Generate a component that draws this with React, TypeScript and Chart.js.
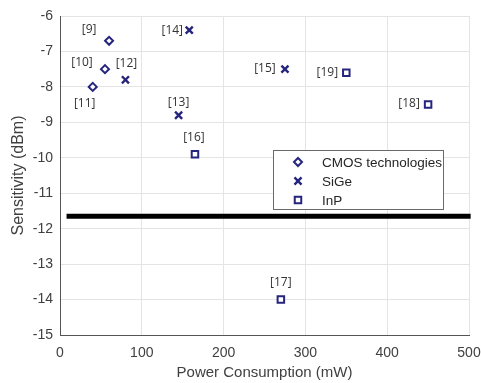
import { useEffect, useRef } from 'react';
import { Chart, registerables } from 'chart.js';
import { drawPoint } from 'chart.js/helpers';

Chart.register(...registerables);

// ---- data ----
const seriesNames = ['CMOS technologies', 'SiGe', 'InP'];
const cmosX = [60, 55, 40];
const cmosY = [-6.7, -7.5, -8.0];
const cmosRefs = ['[9]', '[10]', '[11]'];
const sigeX = [80, 158, 145, 275];
const sigeY = [-7.8, -6.4, -8.8, -7.5];
const sigeRefs = ['[12]', '[14]', '[13]', '[15]'];
const inpX = [165, 350, 450, 270];
const inpY = [-9.9, -7.6, -8.5, -14.0];
const inpRefs = ['[16]', '[19]', '[18]', '[17]'];
const thresholdX = [8, 502];
const thresholdY = [-11.65, -11.65];
const xTicks = [0, 100, 200, 300, 400, 500];
const yTicks = [-6, -7, -8, -9, -10, -11, -12, -13, -14, -15];
const xTitle = 'Power Consumption (mW)';
const yTitle = 'Sensitivity (dBm)';

// ---- styles (label offsets in px) ----
const labelOffsets: Record<string, [number, number]> = {
  '[9]': [-20, -11],
  '[10]': [-23, -7],
  '[11]': [-8, 17],
  '[12]': [1, -16],
  '[14]': [-17, 0],
  '[13]': [0, -13],
  '[16]': [-1, -17],
  '[15]': [-20, -1],
  '[19]': [-19, 0],
  '[18]': [-19, -1],
  '[17]': [0, -17],
};

const markerColor = '#25257e';

function pts(xs: number[], ys: number[]) {
  return xs.map((x, i) => ({ x, y: ys[i] }));
}

export default function App() {
  const ref = useRef<HTMLCanvasElement | null>(null);

  useEffect(() => {
    const canvas = ref.current;
    if (!canvas) return;
    const refsByDataset = [cmosRefs, sigeRefs, inpRefs];

    const labelPlugin = {
      id: 'refLabels',
      afterDatasetsDraw(chart: any) {
        const ctx = chart.ctx;
        ctx.save();
        ctx.font = '12px "Open Sans", sans-serif';
        ctx.fillStyle = '#333333';
        ctx.textAlign = 'center';
        ctx.textBaseline = 'middle';
        refsByDataset.forEach((refs, di) => {
          const meta = chart.getDatasetMeta(di);
          refs.forEach((r, j) => {
            const el = meta.data[j];
            if (!el) return;
            const off = labelOffsets[r] || [0, -14];
            ctx.fillText(r, el.x + off[0], el.y + off[1]);
          });
        });
        ctx.restore();
      },
    };

    const legendPlugin = {
      id: 'boxLegend',
      afterDraw(chart: any) {
        const ctx = chart.ctx;
        const area = chart.chartArea;
        const left = area.right - 196;
        const top = area.top + 134;
        const w = 170;
        const h = 59;
        ctx.save();
        ctx.fillStyle = '#ffffff';
        ctx.fillRect(left, top, w, h);
        ctx.strokeStyle = '#6a6a6a';
        ctx.lineWidth = 1;
        ctx.strokeRect(left + 0.5, top + 0.5, w, h);
        ctx.font = '13.5px "Liberation Sans", Arial, sans-serif';
        ctx.textAlign = 'left';
        ctx.textBaseline = 'middle';
        seriesNames.forEach((name, i) => {
          const ds = chart.data.datasets[i];
          const cy = top + 12 + i * 19;
          ctx.strokeStyle = ds.borderColor;
          ctx.fillStyle = '#ffffff';
          ctx.lineWidth = ds.borderWidth;
          drawPoint(ctx, {
            pointStyle: ds.pointStyle,
            radius: ds.pointRadius,
            rotation: 0,
            borderWidth: ds.borderWidth,
          } as any, left + 25, cy);
          ctx.fillStyle = '#262626';
          ctx.fillText(name, left + 49, cy + 1);
        });
        ctx.restore();
      },
    };

    const chart = new Chart(canvas, {
      type: 'scatter',
      data: {
        datasets: [
          {
            label: seriesNames[0],
            data: pts(cmosX, cmosY),
            pointStyle: 'rectRot',
            pointRadius: 4,
            borderWidth: 2,
            borderColor: markerColor,
            backgroundColor: '#ffffff',
          },
          {
            label: seriesNames[1],
            data: pts(sigeX, sigeY),
            pointStyle: 'crossRot',
            pointRadius: 5,
            borderWidth: 2.4,
            borderColor: markerColor,
            backgroundColor: markerColor,
          },
          {
            label: seriesNames[2],
            data: pts(inpX, inpY),
            pointStyle: 'rect',
            pointRadius: 4.6,
            borderWidth: 2,
            borderColor: markerColor,
            backgroundColor: '#ffffff',
          },
          {
            label: 'threshold',
            data: pts(thresholdX, thresholdY),
            showLine: true,
            borderColor: '#000000',
            borderWidth: 5,
            pointRadius: 0,
            clip: false as any,
          } as any,
        ],
      },
      options: {
        responsive: false,
        animation: false,
        devicePixelRatio: 1,
        layout: { padding: { top: 16, right: 0, left: 0, bottom: 0 } },
        plugins: {
          legend: { display: false },
          tooltip: { enabled: false },
        },
        scales: {
          x: {
            type: 'linear',
            min: 0,
            max: 500,
            afterFit: (s: any) => { s.height = 48; s.paddingRight = 12; },
            afterBuildTicks: (s: any) => { s.ticks = xTicks.map((v) => ({ value: v })); },
            ticks: {
              padding: 10,
              color: '#404040',
              font: { family: '"Liberation Sans", Arial, sans-serif', size: 14 },
            },
            grid: { color: '#e4e4e4', drawTicks: false },
            border: { color: '#555555', width: 1 },
            title: {
              display: true,
              text: xTitle,
              color: '#404040',
              font: { family: '"Liberation Sans", Arial, sans-serif', size: 15 },
              padding: { top: 0, bottom: 1 },
            },
          },
          y: {
            type: 'linear',
            min: -15,
            max: -6,
            afterFit: (s: any) => { s.width = 60; },
            afterBuildTicks: (s: any) => { s.ticks = yTicks.map((v) => ({ value: v })); },
            ticks: {
              padding: 7,
              color: '#404040',
              font: { family: '"Liberation Sans", Arial, sans-serif', size: 14 },
            },
            grid: { color: '#e4e4e4', drawTicks: false },
            border: { color: '#555555', width: 1 },
            title: {
              display: true,
              text: yTitle,
              color: '#404040',
              font: { family: '"Liberation Sans", Arial, sans-serif', size: 16 },
              padding: { top: 9, bottom: 0 },
            },
          },
        },
      },
      plugins: [labelPlugin, legendPlugin],
    });

    return () => chart.destroy();
  }, []);

  return (
    <div style={{ position: 'absolute', left: 0, top: 0, width: 481, height: 383, background: '#ffffff' }}>
      <canvas ref={ref} width={481} height={383} />
    </div>
  );
}
